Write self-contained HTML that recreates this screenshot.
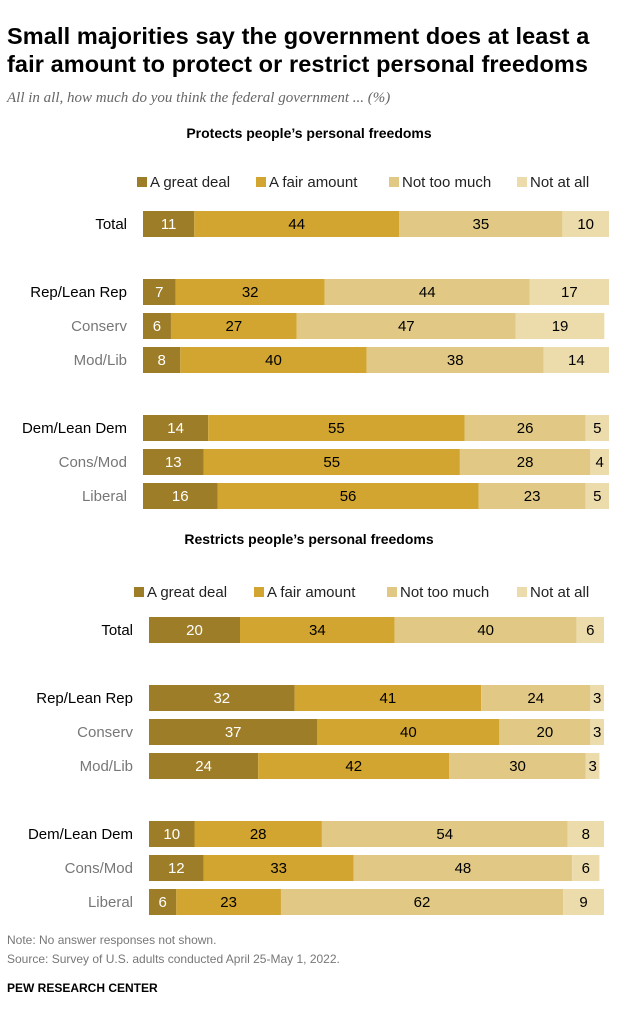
<!DOCTYPE html>
<html><head><meta charset="utf-8"><style>
body{margin:0;width:618px;height:1024px;background:#fff;font-family:"Liberation Sans",sans-serif;position:relative;overflow:hidden}
.t{position:absolute;white-space:nowrap}
</style></head><body>
<div class="t" style="left:7px;top:22px;font-size:23.5px;font-weight:bold;line-height:28px;color:#000;letter-spacing:0.1px">Small majorities say the government does at least a<br>fair amount to protect or restrict personal freedoms</div>
<div class="t" style="left:7px;top:90px;font-size:15px;font-style:italic;color:#666;font-family:'Liberation Serif',serif">All in all, how much do you think the federal government ... (%)</div>
<div class="t" style="left:7px;top:933px;font-size:12px;color:#777">Note: No answer responses not shown.</div>
<div class="t" style="left:7px;top:952px;font-size:12px;color:#777">Source: Survey of U.S. adults conducted April 25-May 1, 2022.</div>
<div class="t" style="left:7px;top:981px;font-size:12px;font-weight:bold;color:#000">PEW RESEARCH CENTER</div>
<svg id="c" width="618" height="1024" style="position:absolute;left:0;top:0"></svg>
<script>
const series=["A great deal","A fair amount","Not too much","Not at all"];
const colors=["#9e7d28","#d2a530","#e1c985","#eddcab"];
const topTitle="Protects people\u2019s personal freedoms";
const botTitle="Restricts people\u2019s personal freedoms";
const groups=["Total","Rep/Lean Rep","Conserv","Mod/Lib","Dem/Lean Dem","Cons/Mod","Liberal"];
const sub=[false,false,true,true,false,true,true];
const topVals=[[11,44,35,10],[7,32,44,17],[6,27,47,19],[8,40,38,14],[14,55,26,5],[13,55,28,4],[16,56,23,5]];
const botVals=[[20,34,40,6],[32,41,24,3],[37,40,20,3],[24,42,30,3],[10,28,54,8],[12,33,48,6],[6,23,62,9]];
const rowOffsets=[0,68,102,136,204,238,272];
const svg=document.getElementById('c');
const NS="http://www.w3.org/2000/svg";
function mk(tag,attrs,txt){const e=document.createElementNS(NS,tag);for(const k in attrs)e.setAttribute(k,attrs[k]);if(txt!==undefined)e.textContent=txt;svg.appendChild(e);return e;}
function chart(title,vals,x0,x1,y0,legY,legXs,key){
  const sc=v=>v*(x1-x0)/100;
  const t=mk('text',{x:309,y:y0-86,'text-anchor':'middle','font-size':14,'font-weight':'bold',fill:'#000'},title);
  
  
  series.forEach((s,i)=>{
    const r=mk('rect',{x:legXs[i],y:legY-10,width:10,height:10,fill:colors[i]});
    
    
    const lt=mk('text',{x:legXs[i]+13,y:legY,'font-size':15,fill:'#222'},s);
    
    
  });
  groups.forEach((g,r)=>{
    const cy=y0+rowOffsets[r];
    const lab=mk('text',{x:x0-16,y:cy+5,'text-anchor':'end','font-size':15,fill:sub[r]?'#777':'#000'},g);
    
    
    let x=x0;
    vals[r].forEach((v,i)=>{
      const w=sc(v);
      const b=mk('rect',{x:x,y:cy-13,width:w,height:26,fill:colors[i]});
      
      
      const vt=mk('text',{x:x+w/2,y:cy+5,'text-anchor':'middle','font-size':15,fill:i==0?'#fff':'#000'},v);
      
      
      x+=w;
    });
  });
}
chart(topTitle,topVals,143,609,224,187,[137,256,389,517],'protects');
chart(botTitle,botVals,149,604,630,597,[134,254,387,517],'restricts');
</script>
</body></html>
